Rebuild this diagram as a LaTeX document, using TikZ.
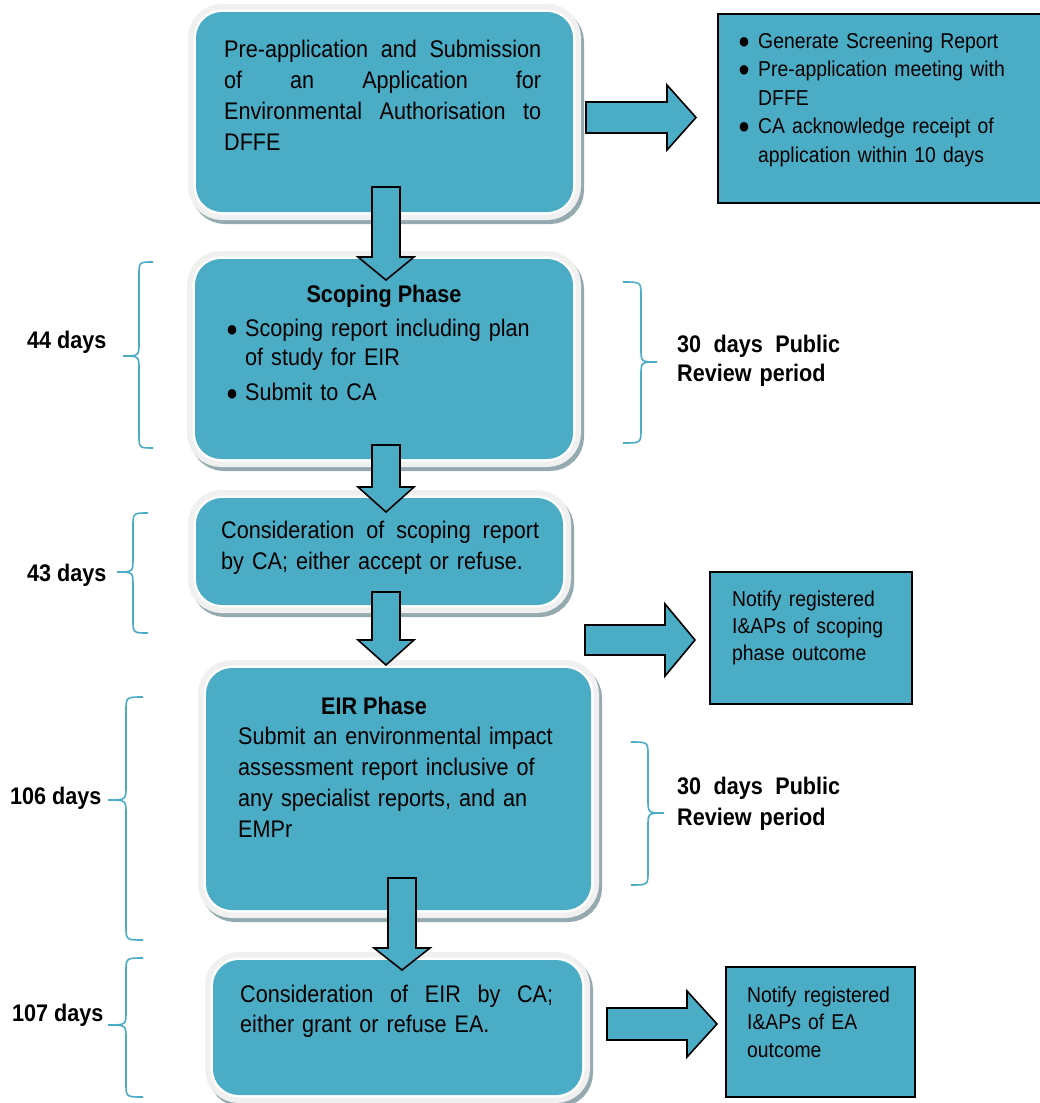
\documentclass[tikz,border=0pt]{standalone}
\usepackage{fontspec}
\setmainfont[FakeStretch=0.9]{Liberation Sans}
\definecolor{boxteal}{HTML}{4BACC6}
\definecolor{haloc}{HTML}{F0F0F0}
\definecolor{shadowc}{HTML}{95A9B0}
\newcommand\mainsz{\fontsize{24}{31}\selectfont}
\newcommand\sidesz{\fontsize{21.5}{28.5}\selectfont}
\newcommand\jl[2]{\leavevmode\hbox to #1{#2}}
\newcommand\bul[1]{\makebox[#1][l]{\fontsize{22}{22}\selectfont ●}}
\newcommand\darrow[4]{%
  \draw[fatarrow] (#1-14,#2) -- (#1+14,#2) -- (#1+14,#3) -- (#1+28,#3) -- (#1,#4)
    -- (#1-28,#3) -- (#1-14,#3) -- cycle;}
\newcommand\rarrow[6]{%
  \draw[fatarrow] (#2,#1-#5) -- (#3,#1-#5) -- (#3,#1-#6) -- (#4,#1) -- (#3,#1+#6)
    -- (#3,#1+#5) -- (#2,#1+#5) -- cycle;}
\newcommand\lbr[6]{% xend xvert xtip ytop ytip ybot
  \draw[bracestyle] (#1,#4) .. controls (#2,#4) .. (#2,#4+14) -- (#2,#5-14)
    .. controls (#2,#5) .. (#3,#5) .. controls (#2,#5) .. (#2,#5+14) -- (#2,#6-14)
    .. controls (#2,#6) .. (#1,#6);}
\tikzset{
  phase/.style={rectangle, rounded corners=26pt, fill=boxteal, inner sep=0pt, outer sep=0pt,
    preaction={draw=shadowc, line width=16pt, transform canvas={xshift=3pt,yshift=-4pt}},
    preaction={draw=haloc, line width=16pt},
    preaction={draw=white, line width=5pt}},
  sidebox/.style={rectangle, fill=boxteal, draw=black, line width=2pt, inner sep=0pt},
  fatarrow/.style={fill=boxteal, draw=black, line width=1.6pt, line join=miter},
  bracestyle/.style={draw=boxteal, line width=1.6pt},
  txt/.style={inner sep=0pt, anchor=base west, align=left, text width=#1},
  lbl/.style={inner sep=0pt, anchor=base west, font=\mainsz\bfseries},
}
\begin{document}
\begin{tikzpicture}[x=1pt,y=-1pt]
\useasboundingbox (0,0) rectangle (1039,1103);
\fill[white] (0,0) rectangle (1039,1103);

% main phase boxes
\node[phase, minimum width=377pt, minimum height=200pt] (b1) at (384.5,112) {};
\node[phase, minimum width=378pt, minimum height=200pt] (b2) at (384,359) {};
\node[phase, minimum width=367pt, minimum height=107pt] (b3) at (379.5,551.5) {};
\node[phase, minimum width=385pt, minimum height=242pt] (b4) at (398.5,789) {};
\node[phase, minimum width=369pt, minimum height=135pt] (b5) at (397.5,1027.5) {};

% side boxes
\node[sidebox, minimum width=323pt, minimum height=189pt] (s1) at (879.5,108.5) {};
\node[sidebox, minimum width=202pt, minimum height=132pt] (s2) at (811,638) {};
\node[sidebox, minimum width=189pt, minimum height=130pt] (s3) at (820.5,1032) {};

% texts in boxes
\node[txt=330pt, font=\mainsz] (t1) at (224,57)
  {\jl{317pt}{Pre-application\hfill and\hfill Submission}\\
   \jl{317pt}{of\hfill an\hfill Application\hfill for}\\
   \jl{317pt}{Environmental\hfill Authorisation\hfill to}\\
   DFFE};
\node[inner sep=0pt, anchor=base, font=\mainsz\bfseries] (t2h) at (384,302) {Scoping Phase};
\node[txt=340pt, font=\mainsz] (t2) at (226,336)
  {\bul{19pt}Scoping report including plan\\[-2pt]
   \hspace*{19pt}of study for EIR\\[4pt]
   \bul{19pt}Submit to CA};
\node[txt=330pt, font=\mainsz] (t3) at (221,538)
  {\jl{318pt}{Consideration\hfill of\hfill scoping\hfill report}\\
   by CA; either accept or refuse.};
\node[inner sep=0pt, anchor=base, font=\mainsz\bfseries] (t4h) at (374,714) {EIR Phase};
\node[txt=340pt, font=\mainsz] (t4) at (238,744)
  {Submit an environmental impact\\
   assessment report inclusive of\\
   any specialist reports, and an\\
   EMPr};
\node[txt=330pt, font=\mainsz] (t5) at (240,1002)
  {\jl{313pt}{Consideration\hfill of\hfill EIR\hfill by\hfill CA;}\\[-1pt]
   either grant or refuse EA.};

\node[txt=300pt, font=\sidesz] (ts1) at (738,48)
  {\bul{20pt}Generate Screening Report\\
   \bul{20pt}Pre-application meeting with\\
   \hspace*{20pt}DFFE\\
   \bul{20pt}CA acknowledge receipt of\\
   \hspace*{20pt}application within 10 days};
\node[txt=180pt, font=\fontsize{21.5}{27}\selectfont] (ts2) at (732,606)
  {Notify registered\\ I\&APs of scoping\\ phase outcome};
\node[txt=170pt, font=\fontsize{21.5}{27.5}\selectfont] (ts3) at (747,1002)
  {Notify registered\\ I\&APs of EA\\ outcome};

% labels
\node[lbl] (l44) at (27,348) {44 days};
\node[lbl] (l43) at (27,581) {43 days};
\node[lbl] (l106) at (10,804) {106 days};
\node[lbl] (l107) at (12,1021) {107 days};
\node[txt=200pt, font=\fontsize{24}{29}\selectfont\bfseries] (r1) at (677,352)
  {\jl{163pt}{30\hfill days\hfill Public}\\ Review period};
\node[txt=200pt, font=\fontsize{24}{31}\selectfont\bfseries] (r2) at (677,794)
  {\jl{163pt}{30\hfill days\hfill Public}\\ Review period};

% braces
\lbr{153}{139}{123}{262}{356}{448}
\lbr{148}{133}{117}{513}{572}{633}
\lbr{143}{126}{108}{697}{800}{940}
\lbr{143}{126}{108}{958}{1025}{1097}
\lbr{623}{641}{657}{282}{362}{443}
\lbr{631}{648}{664}{742}{813}{885}

% fat arrows
\darrow{386}{187}{257}{280}
\darrow{386}{445}{487}{512}
\darrow{386}{592}{640}{665}
\darrow{402}{878}{948}{970}
\rarrow{117.5}{586}{667}{696}{15.5}{32.5}
\rarrow{640}{585}{665}{695}{15}{36}
\rarrow{1024}{607}{687}{717}{16}{33}
\end{tikzpicture}
\end{document}
